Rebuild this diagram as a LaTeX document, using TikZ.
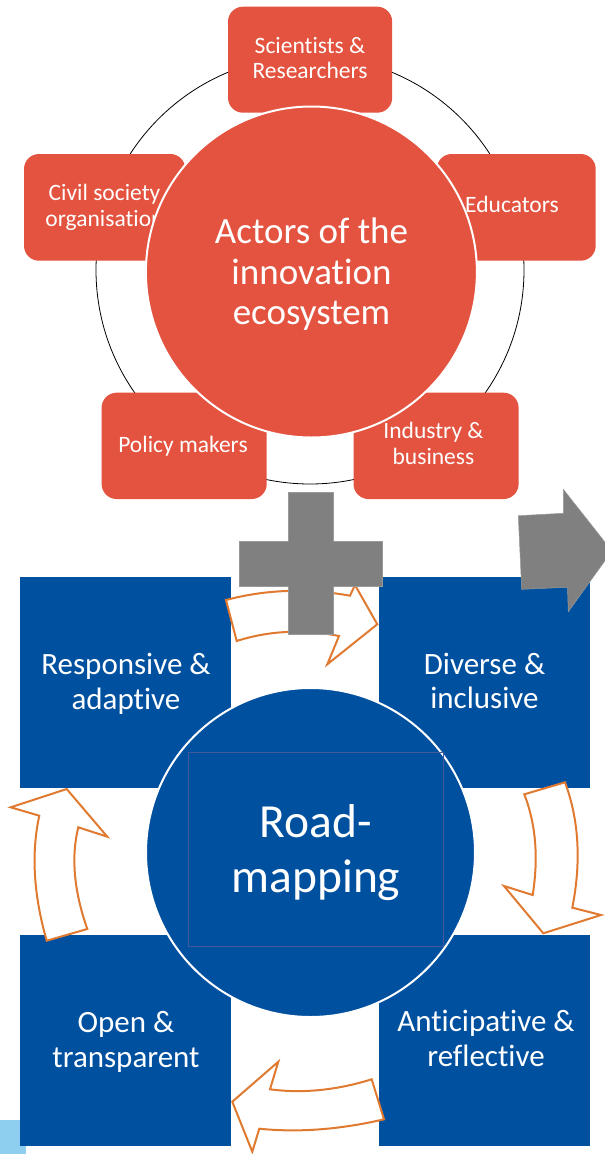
\documentclass[tikz,border=0pt]{standalone}
\usepackage{fontspec}
\setmainfont{Carlito}[Ligatures=NoCommon]
\definecolor{actred}{RGB}{227,83,63}
\definecolor{roadblue}{RGB}{0,80,160}
\definecolor{arrgray}{RGB}{128,128,128}
\definecolor{arrorange}{RGB}{224,122,48}
\definecolor{lightsky}{RGB}{142,207,239}
\definecolor{frameblue}{RGB}{66,89,154}
\tikzset{
  actorbox/.style={rectangle, fill=actred, draw=none, rounded corners=15pt, inner sep=0pt, outer sep=0pt},
  actortext/.style={text=white, font=\fontsize{23.5}{25.7}\selectfont, align=center, inner sep=0pt},
  valuebox/.style={rectangle, fill=roadblue, draw=none, minimum width=211pt, minimum height=211pt, inner sep=0pt, outer sep=0pt},
  valuetext/.style={text=white, font=\fontsize{31}{34.5}\selectfont, align=center, inner sep=0pt},
  hubcircle/.style={circle, draw=white, line width=2pt, inner sep=0pt, minimum size=#1},
  cyclearrow/.style={draw=arrorange, line width=2pt, fill=white, line join=miter},
  grayshape/.style={fill=arrgray, draw=arrgray!80!white, line width=0.5pt},
}
\begin{document}
\begin{tikzpicture}[x=1pt,y=-1pt]
\path[use as bounding box] (0,0) rectangle (605,1154);
\clip (0,0) rectangle (605,1154);
\fill[white] (0,0) rectangle (605,1154);

% ---------- actors of the innovation ecosystem ----------
\node[circle, draw=black, line width=0.8pt, minimum size=428pt, inner sep=0pt] (ring) at (310,270) {};

\node[actorbox, minimum width=164.2pt, minimum height=106pt] (sci) at (310.1,59.7) {};
\node[actorbox, minimum width=161.3pt, minimum height=106.7pt] (civ) at (104.65,207.35) {};
\node[actorbox, minimum width=158.9pt, minimum height=106.7pt] (edu) at (516.25,207.35) {};
\node[actorbox, minimum width=165.1pt, minimum height=106.3pt] (pol) at (184.15,445.85) {};
\node[actorbox, minimum width=165.1pt, minimum height=106.3pt] (ind) at (436.05,445.85) {};

\node[actortext] (tsci) at (310,58.1) {Scientists \&\\Researchers};
\node[actortext] (tciv) at (104.5,207.4) {Civil society\\organisation};
\node[actortext] (tedu) at (512,204.3) {Educators};
\node[actortext] (tpol) at (183,446.2) {Policy makers};
\node[actortext] (tind) at (433.5,443.2) {Industry \&\\business};

\node[hubcircle=331pt, fill=actred] (actors) at (311.4,272) {};
\node[text=white, font=\fontsize{37}{40.6}\selectfont, align=center, inner sep=0pt] (tactors) at (311.5,274.3) {Actors of the\\innovation\\ecosystem};

% ---------- roadmapping ----------
\fill[lightsky] (0,1120) rectangle (26,1154);

\node[valuebox] (resp) at (125.5,682.5) {};
\node[valuebox] (div) at (484.5,682.5) {};
\node[valuebox] (open) at (125.5,1040.5) {};
\node[valuebox] (anti) at (484.5,1040.5) {};

\node[valuetext] (tresp) at (126,684) {Responsive \&\\adaptive};
\node[valuetext] (tdiv) at (484.5,680.75) {Diverse \&\\inclusive};
\node[valuetext] (topen) at (126,1042) {Open \&\\transparent};
\node[valuetext] (tanti) at (486,1038.5) {Anticipative \&\\reflective};

\node[hubcircle=329pt, fill=roadblue] (road) at (310.5,852.5) {};
\node[draw=frameblue, line width=1pt, minimum width=254.6pt, minimum height=194pt, inner sep=0pt] (frame) at (316,849.7) {};
\node[text=white, font=\fontsize{47.5}{55}\selectfont, align=center, inner sep=0pt] (troad) at (316,852.5) {Road-\\mapping};

% ---------- cycle arrows ----------
\path[cyclearrow] (226,600) .. controls (266,589.4) and (307.4,588) .. (350,595.7)
  -- (355,585) -- (377.3,624.3) -- (327.3,664.3) -- (339,636)
  .. controls (303.4,629) and (269.3,630.6) .. (236.7,641) -- cycle;

\path[cyclearrow] (565,782.3) .. controls (578.9,819.7) and (581.4,861.6) .. (572.3,907.7)
  -- (601,915) -- (543.3,933.3) -- (504,886) -- (532.7,895)
  .. controls (538.6,857.4) and (535.8,823.9) .. (524.3,794.3) -- cycle;

\path[cyclearrow] (371.7,1079.3) -- (384,1119.3)
  .. controls (340.1,1129.5) and (298.6,1132.7) .. (259.3,1128.7)
  -- (252.3,1151.7) -- (232.3,1101.7) -- (278.3,1061.7) -- (270,1089.3)
  .. controls (302.7,1093.6) and (336.6,1090.2) .. (371.7,1079.3) -- cycle;

\path[cyclearrow] (46.7,940.7) -- (87.3,929)
  .. controls (73.9,890.8) and (70.9,856.9) .. (78.3,827.3)
  -- (107.3,836.7) -- (66.7,789) -- (10.7,807.3) -- (39.3,815.7)
  .. controls (31.1,853.1) and (33.5,894.7) .. (46.7,940.7) -- cycle;

% ---------- plus and forward arrow ----------
\path[grayshape] (288,492) -- (333,492) -- (333,541) -- (382,541) -- (382,586)
  -- (333,586) -- (333,634) -- (288,634) -- (288,586) -- (239,586)
  -- (239,541) -- (288,541) -- cycle;

\path[grayshape] (518.3,515.7) -- (563.3,513.3) -- (563.3,489.3) -- (612,551)
  -- (568.3,611.7) -- (567.5,587.3) -- (521.7,589.3) -- cycle;
\end{tikzpicture}
\end{document}
